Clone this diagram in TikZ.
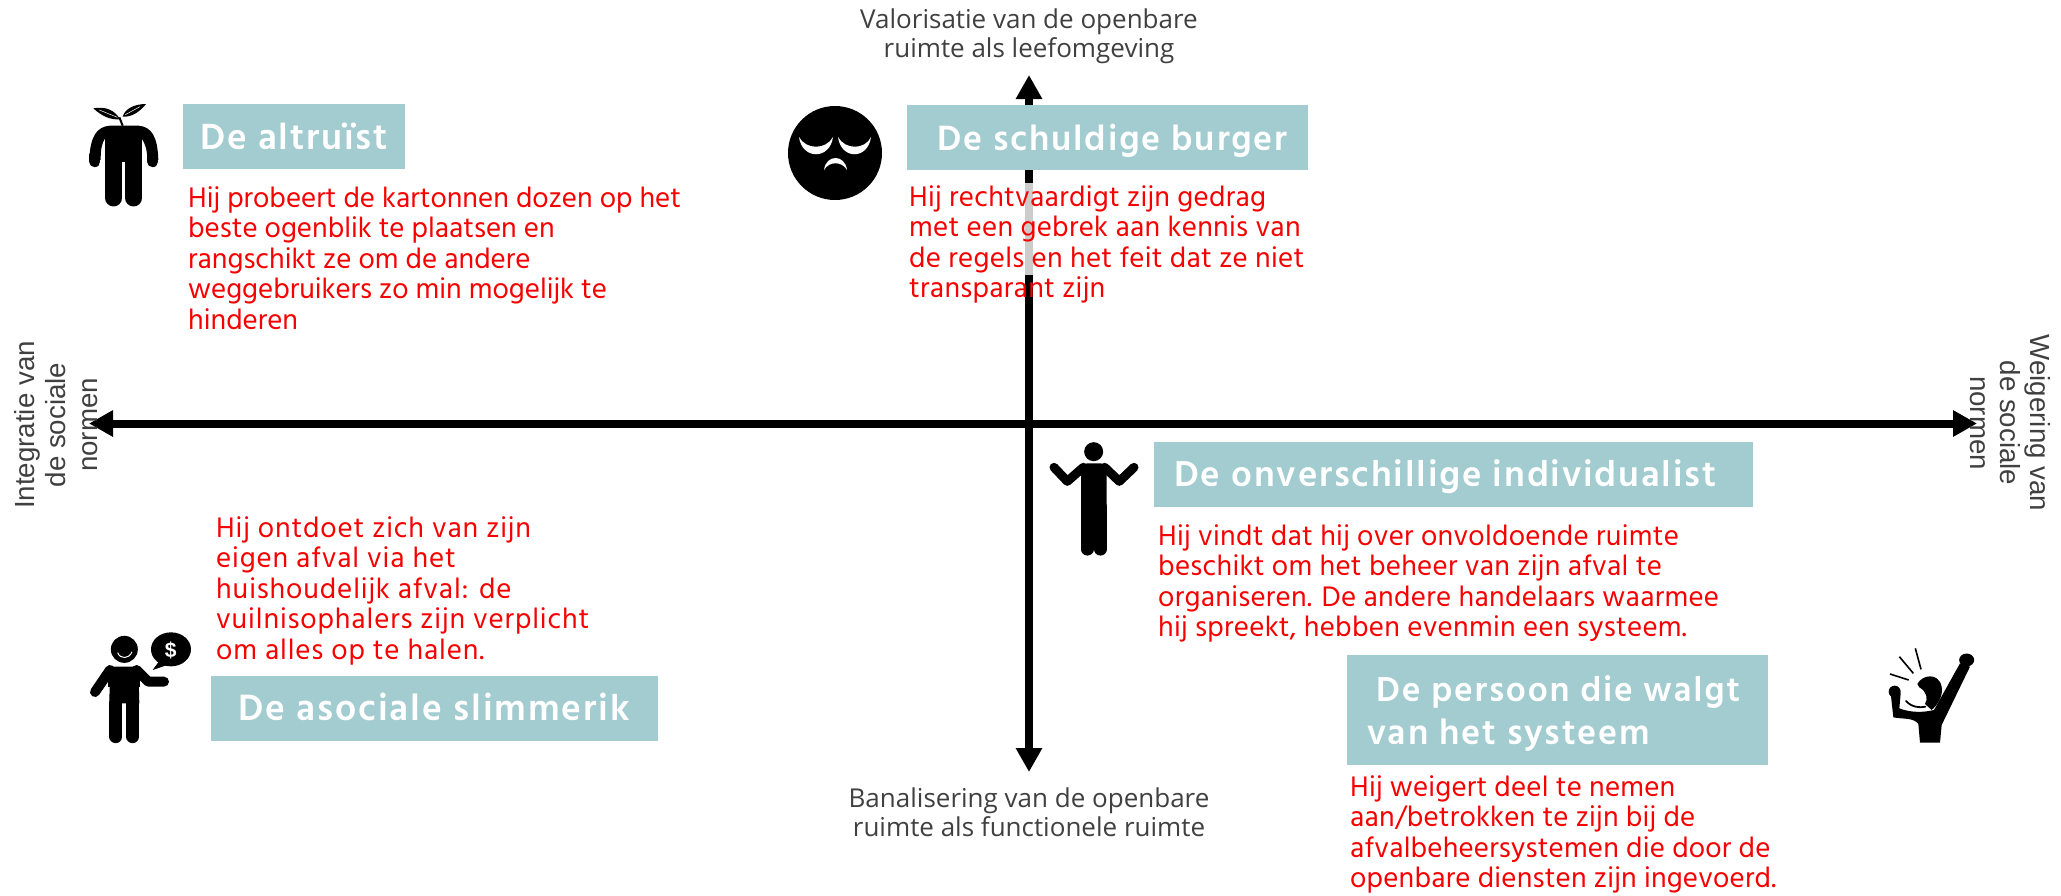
\documentclass[tikz,border=0pt]{standalone}
\usepackage{fontspec}
\setmainfont{Hind Madurai}
\newfontfamily\axisfont{Open Sans}
\newfontfamily\sidefont{Liberation Sans}
\newfontfamily\redfont{Hind Madurai}
\newfontfamily\titlefont[LetterSpace=5]{Hind Madurai}
\usetikzlibrary{arrows.meta}
\definecolor{teal1}{HTML}{A2CCD0}
\definecolor{axisgray}{HTML}{404040}
\definecolor{redtext}{HTML}{F60000}
\tikzset{
  axisline/.style={line width=8pt,{Triangle[length=24pt,width=25pt]}-{Triangle[length=24pt,width=25pt]}},
  titlebox/.style={fill=teal1,inner sep=0pt,minimum height=65pt,anchor=north west},
  titletext/.style={text=white,font=\titlefont\bfseries\fontsize{#1}{43}\selectfont,inner sep=0pt,anchor=base west},
  redblock/.style={text=redtext,font=\redfont\fontsize{29}{30.5}\selectfont\addfontfeature{LetterSpace=#1},align=left,inner sep=0pt,anchor=north west},
  axislabel/.style={text=axisgray,font=\axisfont\fontsize{26}{29.5}\selectfont,align=center,inner sep=0pt},
  sidelabel/.style={text=axisgray,font=\sidefont\fontsize{27.7}{#1}\selectfont,align=center,inner sep=0pt},
  icon/.style={fill=black,draw=none},
  limb/.style={draw=black,line cap=round,line join=round},
}
\begin{document}
\begin{tikzpicture}[x=1pt,y=-1pt]
\useasboundingbox (0,0) rectangle (2061,895);
\fill[white] (0,0) rectangle (2061,895);
% axes
\coordinate (west) at (89,423.5);
\coordinate (east) at (1977,423.5);
\coordinate (north) at (1029,75);
\coordinate (south) at (1029,772);
\coordinate (grayA) at (1029,183);
\coordinate (grayB) at (1029,275);
\draw[axisline] (west) -- (east);
\draw[axisline] (south) -- (north);
\draw[line width=8pt,draw=black!20] (grayA) -- (grayB);
% axis labels
\node[axislabel] (ltop) at (1029,36) {Valorisatie van de openbare\\ruimte als leefomgeving};
\node[axislabel] (lbot) at (1029,812) {Banalisering van de openbare\\ruimte als functionele ruimte};
\node[sidelabel=31.5,rotate=90] (lleft) at (56,425) {Integratie van\\de sociale\\normen};
\node[sidelabel=30,rotate=-90] (lright) at (2010,423) {Weigering van\\de sociale\\normen};
% title boxes
\node[titlebox,minimum width=222pt] (b1) at (183,104) {};
\node[titlebox,minimum width=401pt] (b2) at (907,105) {};
\node[titlebox,minimum width=599pt] (b3) at (1154,442) {};
\node[titlebox,minimum width=447pt] (b4) at (211,676) {};
\node[titlebox,minimum width=421pt,minimum height=110pt] (b5) at (1347,655) {};
\node[titletext=37.3] (t1) at (200,149) {De altruïst};
\node[titletext=36.1] (t2) at (937,150) {De schuldige burger};
\node[titletext=36.9] (t3) at (1174,486) {De onverschillige individualist};
\node[titletext=37.6] (t4) at (238,720) {De asociale slimmerik};
\node[titletext=35.5] (t5a) at (1376,701) {De persoon die walgt};
\node[titletext=36.2] (t5b) at (1367,744) {van het systeem};
% red text
\node[redblock=0] (r1) at (188,186) {Hij probeert de kartonnen dozen op het\\beste ogenblik te plaatsen en\\rangschikt ze om de andere\\weggebruikers zo min mogelijk te\\hinderen};
\node[redblock=1] (r2) at (909,185) {Hij rechtvaardigt zijn gedrag\\met een gebrek aan kennis van\\de regels en het feit dat ze niet\\transparant zijn};
\node[redblock=3] (r3) at (216,516) {Hij ontdoet zich van zijn\\eigen afval via het\\huishoudelijk afval: de\\vuilnisophalers zijn verplicht\\om alles op te halen.};
\node[redblock=1] (r4) at (1158,524) {Hij vindt dat hij over onvoldoende ruimte\\beschikt om het beheer van zijn afval te\\organiseren. De andere handelaars waarmee\\hij spreekt, hebben evenmin een systeem.};
\node[redblock=0.7] (r5) at (1350,775) {Hij weigert deel te nemen\\aan/betrokken te zijn bij de\\afvalbeheersystemen die door de\\openbare diensten zijn ingevoerd.};
% icon 1: plant person
\begin{scope}[shift={(60,80)},x=0.3333pt,y=-0.3333pt]
\draw[limb,line width=17pt] (161,250) -- (161,354) (221,250) -- (221,354);
\fill[icon] (135,160) rectangle (247,245);
\fill[icon] (88,240) .. controls (90,170) and (110,140) .. (150,137) -- (235,137) .. controls (275,140) and (293,170) .. (295,240) -- (262,240) .. controls (262,210) and (255,190) .. (245,175) -- (135,175) .. controls (125,190) and (122,210) .. (122,240) -- cycle;
\draw[limb,line width=11pt] (105,245) -- (105,225) (278,245) -- (278,225);
\fill[icon] (100,85) .. controls (135,78) and (165,90) .. (180,118) .. controls (150,120) and (125,108) .. (100,85) -- cycle;
\fill[icon] (258,72) .. controls (225,72) and (195,85) .. (188,110) .. controls (215,112) and (240,95) .. (258,72) -- cycle;
\draw[line width=2pt] (178,112) -- (188,137);
\draw[white,line width=0.5pt] (118,90) -- (172,112) (240,80) -- (196,104);
\end{scope}
% icon 2: sad face
\fill[icon] (835,153) circle (47);
\fill[white] (799,137) .. controls (806,150) and (826,150) .. (833,137) .. controls (830,160) and (802,160) .. (799,137) -- cycle;
\fill[white] (838,137) .. controls (845,150) and (865,150) .. (871,137) .. controls (868,160) and (841,160) .. (838,137) -- cycle;
\fill[white] (824,170) .. controls (826,154) and (845,154) .. (847,170) .. controls (842,161) and (829,161) .. (824,170) -- cycle;
% icon 3: money talker
\begin{scope}[shift={(80,620)},x=0.3333pt,y=-0.3333pt]
\fill[icon] (133,88) circle (13.5pt);
\draw[white,line width=1pt] (113,98) .. controls (120,118) and (148,118) .. (156,95);
\fill[icon] (273,88) ellipse (20pt and 17pt);
\fill[icon] (240,120) -- (218,150) -- (262,135) -- cycle;
\node[text=white,font=\sidefont\bfseries\fontsize{21}{21}\selectfont,inner sep=0pt] (dollar) at (272,90) {\$};
\fill[icon] (90,140) -- (175,140) -- (178,250) -- (88,250) -- cycle;
\draw[limb,line width=13pt] (108,250) -- (108,350) (158,250) -- (158,350);
\draw[limb,line width=10pt] (90,150) -- (45,216);
\draw[limb,line width=10pt] (170,150) -- (205,185) -- (252,185);
\fill[icon] (85,140) rectangle (180,200);
\end{scope}
% icon 4: shrugging person
\begin{scope}[shift={(1030,420)},x=0.3333pt,y=-0.3333pt]
\fill[icon] (191,95) circle (9.5pt);
\fill[icon] (172,130) -- (211,130) .. controls (225,130) and (230,140) .. (230,150) -- (230,265) -- (153,265) -- (153,150) .. controls (153,140) and (158,130) .. (172,130) -- cycle;
\draw[limb,line width=12.5pt] (172,260) -- (172,388) (211,260) -- (211,388);
\draw[limb,line width=9pt] (160,142) -- (112,184) -- (72,142);
\draw[limb,line width=9pt] (224,142) -- (268,184) -- (312,142);
\end{scope}
% icon 5: angry person
\begin{scope}[shift={(1860,630)},x=0.3333pt,y=-0.3333pt]
\draw[line width=1.6pt] (90,132) -- (146,150) (118,80) -- (160,130) (166,55) -- (183,118);
\fill[icon] (104,185) circle (6pt);
\fill[icon] (320,90) ellipse (7.5pt and 6.5pt);
\fill[icon] (92,190) -- (100,262) .. controls (130,268) and (160,262) .. (175,282) -- (180,338) -- (240,338) -- (245,285) -- (330,110) -- (300,100) -- (222,240) .. controls (190,248) and (150,248) .. (118,235) -- (122,190) -- cycle;
\fill[icon] (172,162) .. controls (185,135) and (235,125) .. (245,170) .. controls (250,200) and (232,225) .. (215,240) -- (195,222) .. controls (205,205) and (200,185) .. (178,172) -- cycle;
\draw[limb,line width=1.8pt] (138,213) .. controls (155,232) and (180,234) .. (196,230);
\end{scope}
\end{tikzpicture}
\end{document}
